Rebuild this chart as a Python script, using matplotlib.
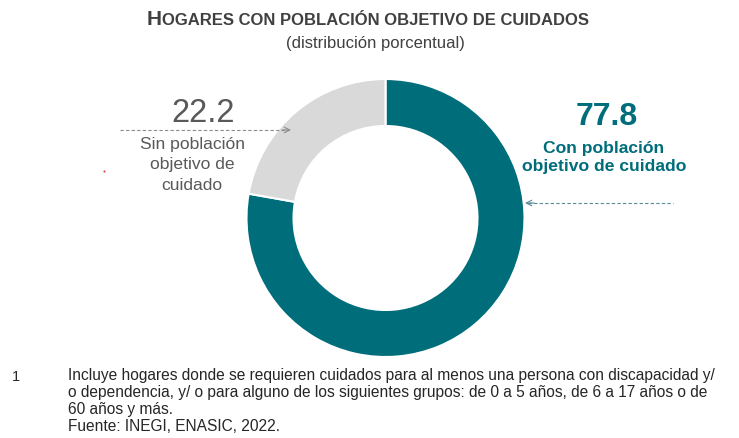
import matplotlib.pyplot as plt

# data
labels = ["Con población\nobjetivo de cuidado", "Sin población\nobjetivo de\ncuidado"]
values = [77.8, 22.2]
colors = ["#006d7b", "#d9d9d9"]
title_first = "H"
title_rest = "OGARES CON POBLACIÓN OBJETIVO DE CUIDADOS"
subtitle = "(distribución porcentual)"
footnote = ("Incluye hogares donde se requieren cuidados para al menos una persona con discapacidad y/\n"
            "o dependencia, y/ o para alguno de los siguientes grupos: de 0 a 5 años, de 6 a 17 años o de\n"
            "60 años y más.\n"
            "Fuente: INEGI, ENASIC, 2022.")

W, H = 739, 439
fig = plt.figure(figsize=(W / 100, H / 100), dpi=100)
ax = fig.add_axes([0, 0, 1, 1])


def Y(y):
    # image pixel row -> data y
    return H - y


font = ["Liberation Sans", "DejaVu Sans"]
dark = "#404040"
grey_txt = "#595959"

# donut
ax.pie(values, colors=colors, startangle=90, counterclock=False,
       center=(385.5, Y(219)), radius=139, frame=True,
       wedgeprops=dict(width=47, edgecolor="white", linewidth=1.5))
ax.set_xlim(0, W)
ax.set_ylim(0, H)
ax.set_aspect("equal")
ax.axis("off")

# title in small caps style
renderer = fig.canvas.get_renderer()
t1 = ax.text(0, Y(25), title_first, fontsize=15, fontweight="bold", color=dark,
             family=font, va="baseline", ha="left")
t2 = ax.text(0, Y(25), title_rest, fontsize=12, fontweight="bold", color=dark,
             family=font, va="baseline", ha="left")
w1 = t1.get_window_extent(renderer).width
w2 = t2.get_window_extent(renderer).width
x0 = 368 - (w1 + w2) / 2
t1.set_x(x0)
t2.set_x(x0 + w1 + 0.5)

ax.text(375, Y(43), subtitle, fontsize=12, color=dark, family=font,
        ha="center", va="center")

# left label
ax.text(203, Y(114), f"{values[1]:.1f}", fontsize=23.5, color=grey_txt, family=font,
        ha="center", va="center")
ax.text(192, Y(165), labels[1], fontsize=12.6, color=grey_txt, family=font,
        ha="center", va="center", linespacing=1.42)
ax.plot([120, 288], [Y(131), Y(131)], color="#8c8c8c", lw=0.8, ls=(0, (3, 2)))
ax.annotate("", xy=(291, Y(131)), xytext=(282, Y(131)),
            arrowprops=dict(arrowstyle="->", color="#8c8c8c", lw=0.8,
                            mutation_scale=10, shrinkA=0, shrinkB=0))

# right label
ax.text(607, Y(117), f"{values[0]:.1f}", fontsize=23, fontweight="bold",
        color=colors[0], family=font, ha="center", va="center")
ax.text(604, Y(157.5), labels[0], fontsize=12.6, fontweight="bold", color=colors[0],
        family=font, ha="center", va="center", linespacing=1.3)
ax.plot([528, 673], [Y(204), Y(204)], color="#5b8a96", lw=0.8, ls=(0, (3, 2)))
ax.annotate("", xy=(525, Y(204)), xytext=(534, Y(204)),
            arrowprops=dict(arrowstyle="->", color="#5b8a96", lw=0.8,
                            mutation_scale=10, shrinkA=0, shrinkB=0))

# stray red dot from the original
ax.plot([104], [Y(172)], marker="o", ms=1.5, color="#e04040", mec="none")

# footnote
ax.text(12, Y(377), "1", fontsize=10.5, color="#262626", family=font,
        ha="left", va="center")
ax.text(68, Y(368), footnote, fontsize=11.2, color="#262626", family=font,
        ha="left", va="top", linespacing=1.17)

fig.savefig("out.png", dpi=100)
